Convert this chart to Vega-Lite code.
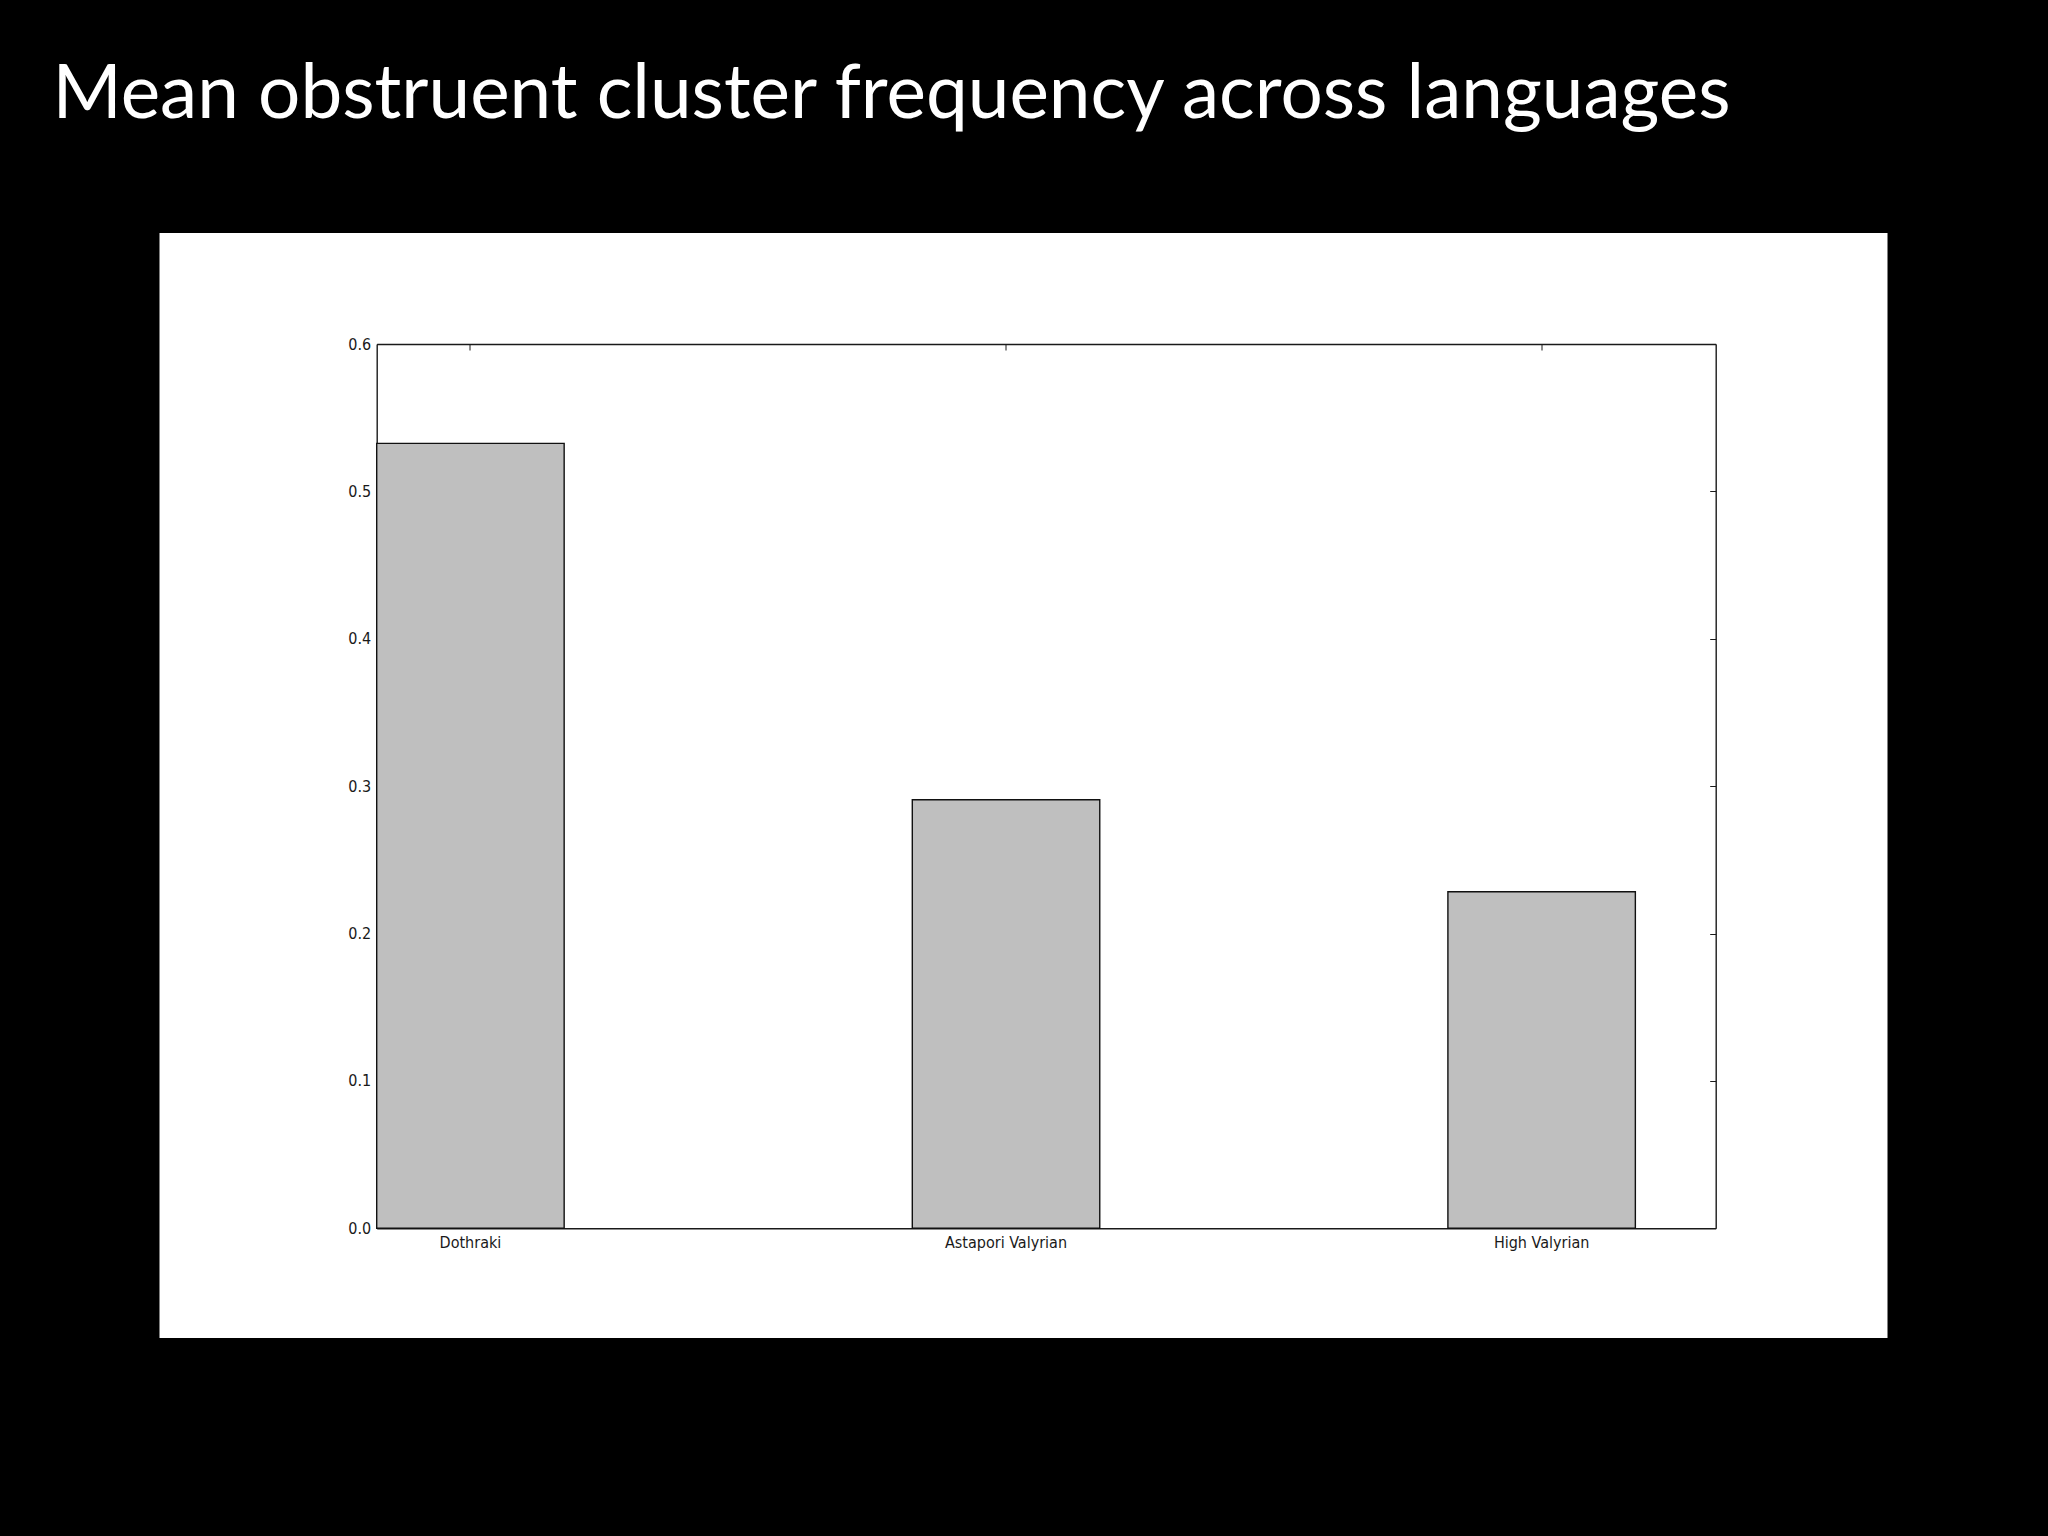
{
  "$schema": "https://vega.github.io/schema/vega-lite/v6.json",
  "width": 1728,
  "height": 1105,
  "autosize": {"type": "none"},
  "padding": {"left": 159.5, "top": 233, "right": 160.5, "bottom": 198},
  "background": "#000000",
  "config": {
    "view": {"fill": "#ffffff", "stroke": null},
    "axis": {
      "labelFont": "DejaVu Sans Condensed, Liberation Sans Narrow, DejaVu Sans",
      "labelFontSize": 16,
      "labelColor": "#1a1a1a",
      "domainColor": "#1a1a1a",
      "domainWidth": 1.4,
      "tickColor": "#1a1a1a",
      "tickWidth": 1,
      "tickSize": -6,
      "grid": false,
      "title": null
    }
  },
  "title": {
    "text": "Mean obstruent cluster frequency across languages",
    "anchor": "start",
    "frame": "group",
    "orient": "top",
    "font": "Lato",
    "fontSize": 74.7,
    "fontWeight": "normal",
    "color": "#ffffff",
    "baseline": "alphabetic",
    "offset": 40,
    "dx": -107
  },
  "data": {
    "values": [
      {"language": "Dothraki", "frequency": 0.5326},
      {"language": "Astapori Valyrian", "frequency": 0.2908},
      {"language": "High Valyrian", "frequency": 0.2284}
    ]
  },
  "layer": [
    {
      "mark": {"type": "bar", "fill": "#bfbfbf", "stroke": "#111111", "strokeWidth": 1.4},
      "encoding": {
        "x": {
          "field": "language",
          "type": "nominal",
          "sort": null,
          "scale": {"range": [217.2, 1556.2], "paddingInner": 0.65, "paddingOuter": 0.075, "align": 0},
          "axis": {"orient": "bottom", "offset": -109.7, "labelAngle": 0, "labelPadding": 12}
        },
        "y": {
          "field": "frequency",
          "type": "quantitative",
          "scale": {"domain": [0, 0.6], "range": [995.3, 111], "nice": false, "zero": true},
          "axis": {"orient": "left", "offset": -217.2, "values": [0, 0.1, 0.2, 0.3, 0.4, 0.5, 0.6], "format": ".1f", "labelPadding": 12}
        }
      }
    },
    {
      "mark": {"type": "bar", "opacity": 0},
      "encoding": {
        "x": {
          "field": "language",
          "type": "nominal",
          "sort": null,
          "axis": {"orient": "top", "offset": -111, "labels": false, "domainWidth": 1.4}
        },
        "y": {
          "field": "frequency",
          "type": "quantitative",
          "axis": {"orient": "right", "offset": -171.8, "labels": false, "values": [0, 0.1, 0.2, 0.3, 0.4, 0.5, 0.6]}
        }
      }
    }
  ],
  "resolve": {"axis": {"x": "independent", "y": "independent"}}
}
